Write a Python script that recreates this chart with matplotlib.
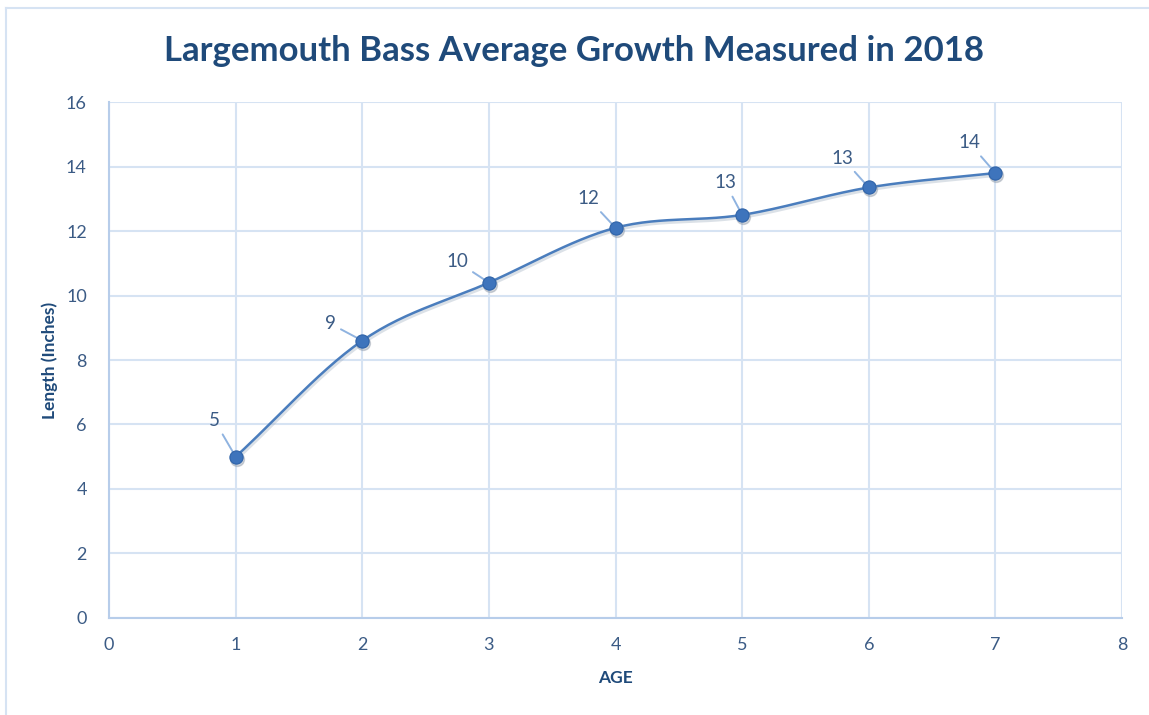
import numpy as np
import matplotlib.pyplot as plt
from matplotlib.lines import Line2D
from matplotlib.transforms import ScaledTranslation

ages = [1, 2, 3, 4, 5, 6, 7]
lengths = [5.0, 8.6, 10.4, 12.1, 12.5, 13.35, 13.8]
# label offsets (pixels) for each data label
label_dx = [-21, -32, -32, -27, -17, -26, -26]
label_dy = [36, 17, 21, 29, 32, 29, 30]

title_color = "#1F4A7A"
tick_color = "#3B5B85"
grid_color = "#D6E3F3"
line_color = "#4A7DBD"
marker_color = "#3E74BC"


def catmull_rom(x, y, n=30):
    # smoothed curve through the points, similar to a spreadsheet "smooth line"
    px = np.concatenate([[2 * x[0] - x[1]], x, [2 * x[-1] - x[-2]]])
    py = np.concatenate([[2 * y[0] - y[1]], y, [2 * y[-1] - y[-2]]])
    xs, ys = [], []
    t = np.linspace(0, 1, n)
    for i in range(1, len(px) - 2):
        for p, out in ((px, xs), (py, ys)):
            p0, p1, p2, p3 = p[i - 1], p[i], p[i + 1], p[i + 2]
            out.extend(0.5 * ((2 * p1) + (-p0 + p2) * t
                              + (2 * p0 - 5 * p1 + 4 * p2 - p3) * t ** 2
                              + (-p0 + 3 * p1 - 3 * p2 + p3) * t ** 3))
    return np.array(xs), np.array(ys)


plt.rcParams['font.family'] = ['Lato', 'DejaVu Sans']

fig = plt.figure(figsize=(11.49, 7.15), dpi=100)
ax = fig.add_axes([0.0949, 0.1357, 0.9765 - 0.0949, 0.8573 - 0.1357])

# outer chart border
fig.add_artist(Line2D([0.005, 1.0], [0.989, 0.989], color=grid_color, lw=1.5))
fig.add_artist(Line2D([0.005, 0.005], [0.0, 0.989], color=grid_color, lw=1.5))

shadow = ax.transData + ScaledTranslation(1 / 100, -2 / 100, fig.dpi_scale_trans)
sx, sy = catmull_rom(np.array(ages, float), np.array(lengths, float))
ax.plot(sx, sy, color="#9AA9BC", lw=2.6, alpha=0.35, zorder=2, transform=shadow)
ax.plot(sx, sy, color=line_color, lw=1.8, zorder=3)
ax.plot(ages, lengths, 'o', color="#8C97A6", ms=10, alpha=0.4, zorder=3, transform=shadow)
ax.plot(ages, lengths, 'o', color=marker_color, mec="#2F63A8", mew=0.8, ms=9.5, zorder=4)

for x, y, dx, dy in zip(ages, lengths, label_dx, label_dy):
    ax.annotate(str(int(y + 0.5)), xy=(x, y), xytext=(dx, dy), textcoords='offset pixels',
                ha='center', va='center', fontsize=13.5, color=tick_color,
                arrowprops=dict(arrowstyle='-', color="#8FB3E0", lw=1.4,
                                shrinkA=2, shrinkB=4))

ax.set_xlim(0, 8)
ax.set_ylim(0, 16)
ax.set_xticks(range(0, 9))
ax.set_yticks(range(0, 17, 2))
ax.grid(True, color=grid_color, lw=1.5)
ax.set_axisbelow(True)
for side in ['top', 'right']:
    ax.spines[side].set_visible(False)
for side in ['left', 'bottom']:
    ax.spines[side].set_color("#B7CDEA")
    ax.spines[side].set_linewidth(1.5)
ax.tick_params(length=0, labelsize=13, labelcolor=tick_color, pad=14)
ax.tick_params(axis='y', pad=16)

ax.set_xlabel("AGE", fontsize=12.5, fontweight='bold', color=title_color, labelpad=12)
ax.set_ylabel("Length (Inches)", fontsize=12.5, fontweight='bold', color=title_color, labelpad=6)
fig.text(0.5, 0.928, "Largemouth Bass Average Growth Measured in 2018", ha='center', va='center',
         fontsize=25, fontweight='bold', color=title_color)

fig.savefig("out.png", dpi=100)
